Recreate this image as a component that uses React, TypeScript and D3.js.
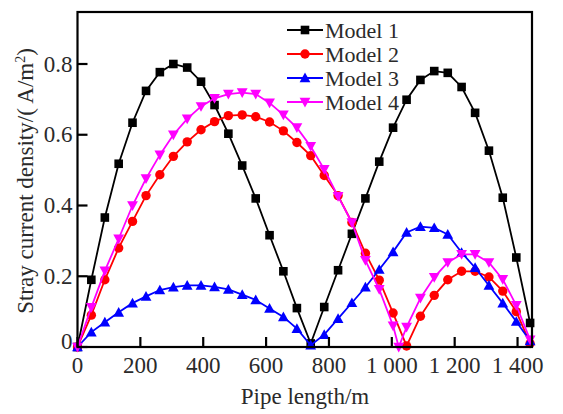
import React from "react";
import * as d3 from "d3";

const pipeLength = [0, 44, 87, 131, 175, 218, 262, 305, 349, 393, 436, 480, 524, 567, 611, 655, 698, 742, 785, 829, 873, 916, 960, 1004, 1047, 1091, 1135, 1178, 1222, 1265, 1309, 1353, 1396, 1440];
const model4Length = [0, 44, 87, 131, 175, 218, 262, 305, 349, 393, 436, 480, 524, 567, 611, 655, 698, 742, 785, 829, 873, 916, 960, 1004, 1022, 1047, 1091, 1135, 1178, 1222, 1265, 1309, 1353, 1396, 1440];

const model1 = [0, 0.19, 0.366, 0.518, 0.634, 0.724, 0.777, 0.8, 0.79, 0.75, 0.684, 0.603, 0.513, 0.42, 0.316, 0.214, 0.11, 0.01, 0.113, 0.217, 0.32, 0.42, 0.524, 0.62, 0.699, 0.755, 0.78, 0.775, 0.735, 0.662, 0.555, 0.422, 0.253, 0.068];
const model2 = [0, 0.09, 0.19, 0.28, 0.355, 0.428, 0.487, 0.539, 0.58, 0.614, 0.637, 0.654, 0.656, 0.651, 0.636, 0.611, 0.578, 0.541, 0.485, 0.428, 0.352, 0.265, 0.189, 0.096, 0.003, 0.087, 0.146, 0.19, 0.214, 0.214, 0.198, 0.158, 0.1, 0.01];
const model3 = [0, 0.042, 0.07, 0.098, 0.124, 0.143, 0.161, 0.169, 0.174, 0.174, 0.17, 0.163, 0.148, 0.133, 0.109, 0.085, 0.052, 0.005, 0.035, 0.08, 0.125, 0.169, 0.219, 0.269, 0.324, 0.34, 0.337, 0.318, 0.267, 0.224, 0.174, 0.124, 0.072, 0.017];
const model4 = [0, 0.112, 0.215, 0.306, 0.4, 0.476, 0.543, 0.6, 0.645, 0.68, 0.703, 0.715, 0.719, 0.715, 0.69, 0.656, 0.62, 0.567, 0.502, 0.426, 0.352, 0.245, 0.163, 0.06, 0, 0.056, 0.138, 0.197, 0.239, 0.262, 0.262, 0.239, 0.191, 0.118, 0.02];

const seriesNames = ["Model 1", "Model 2", "Model 3", "Model 4"];
const seriesColors = ["#000000", "#ff0000", "#0000ff", "#ff00ff"];
const seriesSymbols = ["square", "circle", "triangle", "triangleDown"];

const xTicks = [0, 200, 400, 600, 800, 1000, 1200, 1400];
const xTickLabels = ["0", "200", "400", "600", "800", "1 000", "1 200", "1 400"];
const yTicks = [0, 0.2, 0.4, 0.6, 0.8];
const yTickLabels = ["0", "0.2", "0.4", "0.6", "0.8"];

const W = 563;
const H = 414;
const left = 77.5;
const right = 532;
const top = 12;
const bottom = 347;

const x = d3.scaleLinear().domain([0, 1446]).range([left, right]);
const y = d3.scaleLinear().domain([0, 0.947]).range([bottom, top]);

const FONT = "'Times New Roman', 'Liberation Serif', 'DejaVu Serif', serif";
const TEXT = "#2a2a2a";

function Marker({ kind, cx, cy, color }: { kind: string; cx: number; cy: number; color: string }) {
  if (kind === "square") {
    return <rect x={cx - 4.3} y={cy - 4.3} width={8.6} height={8.6} fill={color} />;
  }
  if (kind === "circle") {
    return <circle cx={cx} cy={cy} r={4.7} fill={color} />;
  }
  if (kind === "triangle") {
    const s = 5.4;
    return <path d={`M${cx},${cy - s}L${cx + s},${cy + s * 0.8}L${cx - s},${cy + s * 0.8}Z`} fill={color} />;
  }
  const s = 5.4;
  return <path d={`M${cx},${cy + s}L${cx + s},${cy - s * 0.8}L${cx - s},${cy - s * 0.8}Z`} fill={color} />;
}

export default function App() {
  const data = [
    pipeLength.map((p, i) => [p, model1[i]]),
    pipeLength.map((p, i) => [p, model2[i]]),
    pipeLength.map((p, i) => [p, model3[i]]),
    model4Length.map((p, i) => [p, model4[i]]),
  ];
  const line = d3
    .line<number[]>()
    .x((d) => x(d[0]))
    .y((d) => y(d[1]));

  const legX = 287;
  const legY0 = 30;
  const legDy = 24;
  const textStyle = { fontFamily: FONT } as React.CSSProperties;

  return (
    <svg width={W} height={H} style={{ position: "absolute", left: 0, top: 0, background: "#fff" }}>
      <rect x={0} y={0} width={W} height={H} fill="#fff" />
      {data.map((pts, si) => (
        <g key={si}>
          <path d={line(pts) || ""} fill="none" stroke={seriesColors[si]} strokeWidth={1.8} />
          {pts.map((d, i) => (
            <Marker key={i} kind={seriesSymbols[si]} cx={x(d[0])} cy={y(d[1])} color={seriesColors[si]} />
          ))}
        </g>
      ))}
      <rect x={left} y={top} width={right - left} height={bottom - top} fill="none" stroke="#000" strokeWidth={2.2} />
      {xTicks.map((t, i) => (
        <g key={"x" + i}>
          <line x1={x(t)} x2={x(t)} y1={bottom} y2={bottom - 10} stroke="#000" strokeWidth={2.2} />
          <text x={x(t)} y={373} textAnchor="middle" style={textStyle} fontSize={23} fill={TEXT}>
            {xTickLabels[i]}
          </text>
        </g>
      ))}
      {yTicks.map((t, i) => (
        <g key={"y" + i}>
          <line x1={left} x2={left + 10} y1={y(t)} y2={y(t)} stroke="#000" strokeWidth={2.2} />
          <text x={left - 5} y={Math.min(y(t), 341) + 7.5} textAnchor="end" style={textStyle} fontSize={23} fill={TEXT}>
            {yTickLabels[i]}
          </text>
        </g>
      ))}
      <text x={305} y={404} textAnchor="middle" style={textStyle} fontSize={23} fill={TEXT}>
        Pipe length/m
      </text>
      <text
        transform={`translate(33,${181}) rotate(-90)`}
        textAnchor="middle"
        style={textStyle}
        fontSize={23}
        fill={TEXT}
      >
        Stray current density/( A/m<tspan dy={-8} fontSize={14}>2</tspan>
        <tspan dy={8}>)</tspan>
      </text>
      {seriesNames.map((name, i) => {
        const ly = legY0 + i * legDy;
        return (
          <g key={"l" + i}>
            <line x1={legX} x2={legX + 36} y1={ly} y2={ly} stroke={seriesColors[i]} strokeWidth={1.8} />
            <Marker kind={seriesSymbols[i]} cx={legX + 18} cy={ly} color={seriesColors[i]} />
            <text x={legX + 38} y={ly + 7.5} style={textStyle} fontSize={22} fill={TEXT}>
              {name}
            </text>
          </g>
        );
      })}
    </svg>
  );
}
